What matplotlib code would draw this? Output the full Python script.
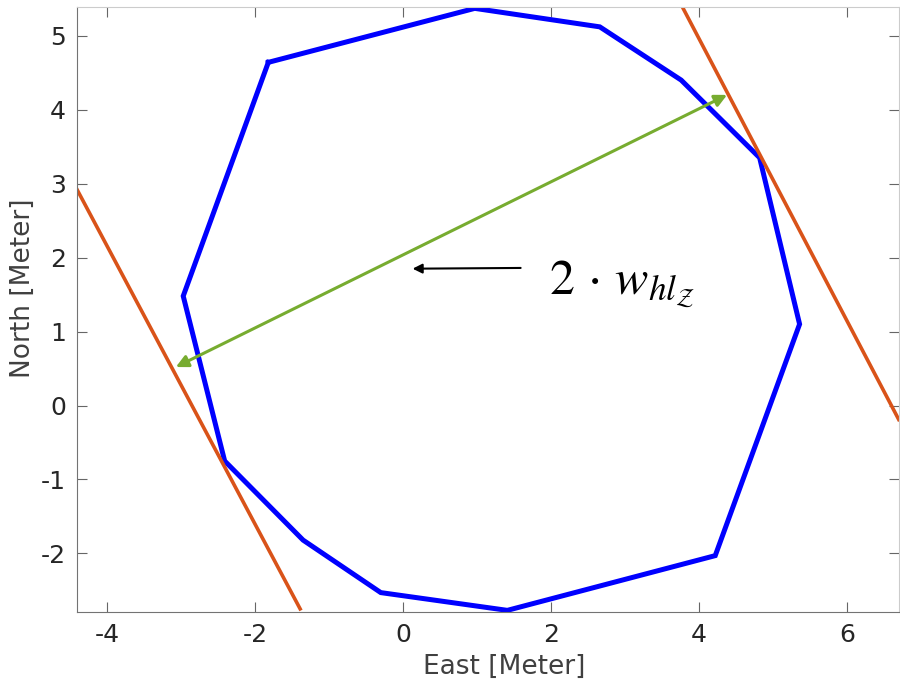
import numpy as np
import matplotlib
matplotlib.use('Agg')
from matplotlib import pyplot as plt

# polygon outline (East, North) in meters
poly_x = [-1.82, 0.97, 2.66, 3.76, 4.82, 5.36, 4.22, 1.41, -0.30, -1.35, -2.41, -2.97, -1.82]
poly_y = [4.64, 5.37, 5.12, 4.40, 3.35, 1.10, -2.03, -2.77, -2.53, -1.82, -0.75, 1.48, 4.64]

# bounding lines
right_line_x = [3.76, 6.70]
right_line_y = [5.42, -0.19]
left_line_x = [-4.405, -1.39]
left_line_y = [2.92, -2.75]

# width arrow endpoints
width_start = (-3.07, 0.52)
width_end = (4.38, 4.20)

# label arrow
label_tail = (1.59, 1.86)
label_head = (0.13, 1.85)

xticks = [-4, -2, 0, 2, 4, 6]
yticks = [-2, -1, 0, 1, 2, 3, 4, 5]

plt.rcParams['axes.unicode_minus'] = False
plt.rcParams['mathtext.fontset'] = 'stix'

fig = plt.figure(figsize=(9, 6.89), dpi=100)
ax = fig.add_axes([0.0856, 0.112, 0.913, 0.878])

ax.plot(poly_x, poly_y, color=(0, 0, 1), lw=3.6, solid_joinstyle='miter')
ax.plot(right_line_x, right_line_y, color=(0.85, 0.325, 0.098), lw=2.6)
ax.plot(left_line_x, left_line_y, color=(0.85, 0.325, 0.098), lw=2.6)

ax.annotate('', xy=width_end, xytext=width_start,
            arrowprops=dict(arrowstyle='<|-|>', color=(0.466, 0.674, 0.188),
                            lw=2.2, mutation_scale=18, shrinkA=0, shrinkB=0))
ax.annotate('', xy=label_head, xytext=label_tail,
            arrowprops=dict(arrowstyle='-|>', color='black', lw=1.5,
                            mutation_scale=14, shrinkA=0, shrinkB=0))

ax.text(1.97, 1.63, r'$2\,\cdot\,w_{hl_{\mathcal{Z}}}$', fontsize=36,
        va='center', ha='left', color='black')

ax.set_xlim(-4.405, 6.70)
ax.set_ylim(-2.79, 5.39)
ax.set_xticks(xticks)
ax.set_yticks(yticks)

ax.set_xlabel('East [Meter]', fontsize=19, color=(0.25, 0.25, 0.25))
ax.set_ylabel('North [Meter]', fontsize=19, color=(0.25, 0.25, 0.25))
ax.xaxis.set_label_coords(0.52, -0.07)
ax.yaxis.set_label_coords(-0.05, 0.535)
ax.tick_params(direction='in', length=7, width=0.8, labelsize=18,
               top=True, right=True, colors=(0.4, 0.4, 0.4),
               labelcolor=(0.15, 0.15, 0.15), pad=8)

for s in ['left', 'bottom']:
    ax.spines[s].set_color((0.45, 0.45, 0.45))
for s in ['top', 'right']:
    ax.spines[s].set_color((0.8, 0.8, 0.8))

fig.savefig('out.png', dpi=100)
